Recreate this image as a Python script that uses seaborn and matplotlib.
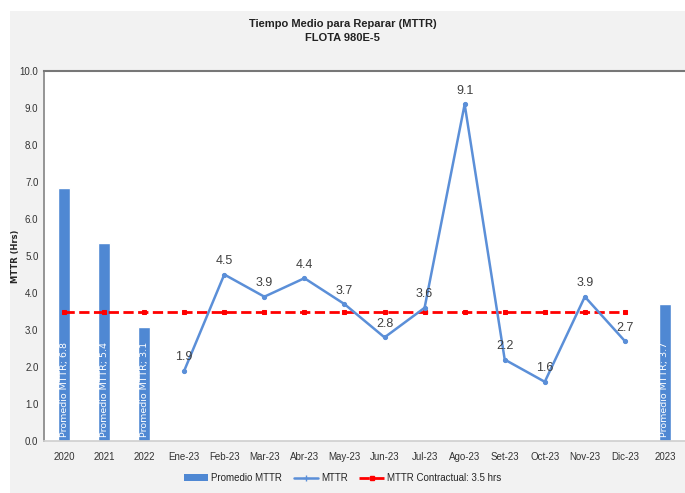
import numpy as np
import pandas as pd
import seaborn as sns
import matplotlib.pyplot as plt
from matplotlib.patches import Rectangle
from matplotlib.lines import Line2D
from matplotlib.patches import Patch

# --- Data ---
categories = ['2020', '2021', '2022', 'Ene-23', 'Feb-23', 'Mar-23', 'Abr-23', 'May-23',
              'Jun-23', 'Jul-23', 'Ago-23', 'Set-23', 'Oct-23', 'Nov-23', 'Dic-23', '2023']
bar_cats = ['2020', '2021', '2022', '2023']
bar_vals = [6.85, 5.35, 3.08, 3.7]
bar_labels = ['6.8', '5.4', '3.1', '3.7']
month_cats = ['Ene-23', 'Feb-23', 'Mar-23', 'Abr-23', 'May-23', 'Jun-23',
              'Jul-23', 'Ago-23', 'Set-23', 'Oct-23', 'Nov-23', 'Dic-23']
mttr_vals = [1.9, 4.5, 3.9, 4.4, 3.7, 2.8, 3.6, 9.1, 2.2, 1.6, 3.9, 2.7]
contract_cats = categories[:-1]
contract_val = 3.5

sns.set_theme(style='white')
plt.rcParams['font.family'] = ['Liberation Sans Narrow', 'Liberation Sans', 'DejaVu Sans']

bar_color = '#4f88d3'
line_color = '#5b8fd8'

fig = plt.figure(figsize=(6.85, 4.93), dpi=100)
fig.patch.set_facecolor('white')
fig.patches.append(Rectangle((10 / 685, 0), 1, 1 - 11 / 493, transform=fig.transFigure,
                             facecolor='#f2f2f2', edgecolor='none', zorder=-10))
ax = fig.add_axes([44 / 685, 52 / 493, 641 / 685, 370 / 493])
ax.set_facecolor('white')

# --- Bars ---
bars_df = pd.DataFrame({'cat': bar_cats, 'val': bar_vals})
sns.barplot(data=bars_df, x='cat', y='val', order=categories, color=bar_color,
            saturation=1, width=0.3, ax=ax, zorder=2)
pos = {c: i for i, c in enumerate(categories)}
for c, v, lab in zip(bar_cats, bar_vals, bar_labels):
    ax.text(pos[c], 0.12, 'Promedio MTTR; ' + lab, rotation=90, ha='center', va='bottom',
            color='white', fontsize=6.8, family='DejaVu Sans', zorder=4)

# --- Contractual line ---
contract_df = pd.DataFrame({'x': [pos[c] for c in contract_cats],
                            'y': [contract_val] * len(contract_cats)})
sns.lineplot(data=contract_df, x='x', y='y', color='red', linestyle='--', linewidth=2,
             marker='s', markersize=3, markeredgecolor='red', ax=ax, zorder=3)

# --- MTTR line ---
mttr_df = pd.DataFrame({'x': [pos[c] for c in month_cats], 'y': mttr_vals})
sns.lineplot(data=mttr_df, x='x', y='y', color=line_color, linewidth=1.8,
             marker='o', markersize=3, markeredgecolor=line_color, ax=ax, zorder=3)
for x, y in zip(mttr_df['x'], mttr_df['y']):
    ax.text(x, y + 0.2, f'{y:.1f}', ha='center', va='bottom', fontsize=9, color='#404040')

# --- Axes ---
ax.set_xlim(-0.5, len(categories) - 0.5)
ax.set_ylim(0, 10)
ax.set_yticks(np.arange(0, 10.1, 1))
ax.set_yticklabels([f'{v:.1f}' for v in np.arange(0, 10.1, 1)], fontsize=7, color='#333333')
ax.set_xticks(range(len(categories)))
ax.set_xticklabels(categories, fontsize=7, color='#333333')
ax.tick_params(axis='x', length=0, pad=8)
ax.tick_params(axis='y', length=0, pad=4)
ax.set_xlabel('')
ax.set_ylabel('MTTR (Hrs)', fontsize=6, fontweight='bold', family='DejaVu Sans')
ax.yaxis.set_label_coords(-24 / 641, 0.5)
ax.spines['right'].set_visible(False)
ax.spines['top'].set_color('#777777')
ax.spines['top'].set_linewidth(1.5)
ax.spines['left'].set_color('#888888')
ax.spines['bottom'].set_color('#d0d0d0')

fig.text(0.5, 1 - 24 / 493, 'Tiempo Medio para Reparar (MTTR)', ha='center', va='center',
         fontsize=8, fontweight='bold', color='#222222')
fig.text(0.5, 1 - 38 / 493, 'FLOTA 980E-5', ha='center', va='center',
         fontsize=8, fontweight='bold', color='#222222')

handles = [Patch(facecolor=bar_color, edgecolor='none'),
           Line2D([], [], color=line_color, marker='+', markersize=5, linewidth=1.8),
           Line2D([], [], color='red', linestyle='--', marker='s', markersize=3, linewidth=2)]
fig.legend(handles, ['Promedio MTTR', 'MTTR', 'MTTR Contractual: 3.5 hrs'],
           loc='center', bbox_to_anchor=(0.5, 1 - 478 / 493), ncol=3, frameon=False,
           fontsize=7, handlelength=2.5, columnspacing=1.2, handletextpad=0.3)

fig.savefig('out.png', dpi=100)
